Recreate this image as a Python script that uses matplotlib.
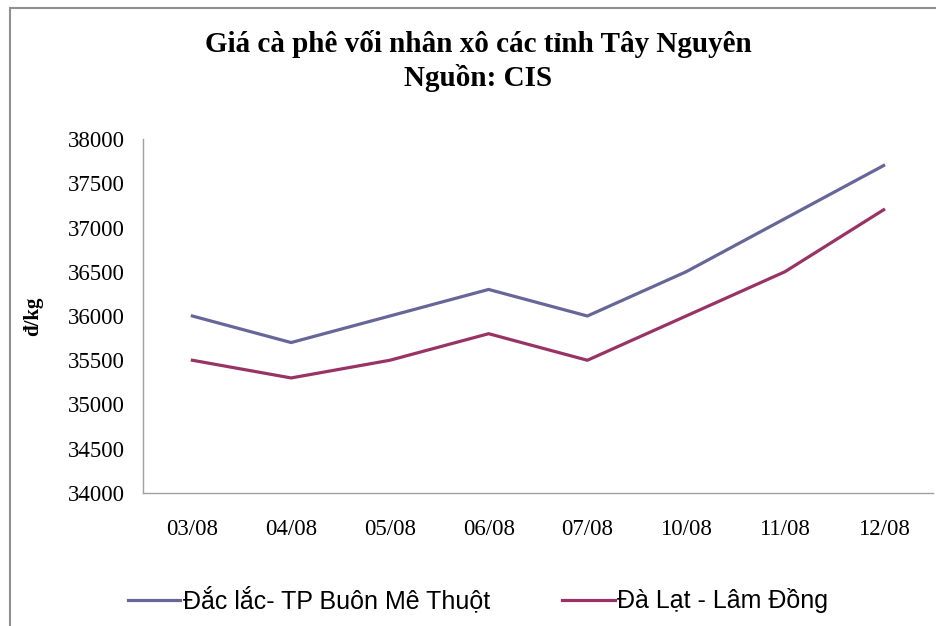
'''
    Coffee price chart for Tay Nguyen provinces
'''
import matplotlib
matplotlib.use('Agg')
import matplotlib.pyplot as plt
from matplotlib.patches import Rectangle

# data
dates       = ['03/08', '04/08', '05/08', '06/08', '07/08', '10/08', '11/08', '12/08']
daclak      = [36000, 35700, 36000, 36300, 36000, 36500, 37100, 37700]
dalat       = [35500, 35300, 35500, 35800, 35500, 36000, 36500, 37200]
series_names = ['Đắc lắc- TP Buôn Mê Thuột', 'Đà Lạt - Lâm Đồng']
y_ticks     = [34000, 34500, 35000, 35500, 36000, 36500, 37000, 37500, 38000]

_serif = 'Liberation Serif'
_sans  = 'Liberation Sans'

fig = plt.figure(figsize=(9.36, 6.26), dpi=100)
ax  = fig.add_axes([143 / 936, 1 - 493 / 626, (933 - 143) / 936, (493 - 139) / 626])

_x = list(range(len(dates)))
ax.plot(_x, daclak, color='#666699', lw=2.3, label=series_names[0], solid_joinstyle='round')
ax.plot(_x, dalat, color='#993366', lw=2.3, label=series_names[1], solid_joinstyle='round')

ax.set_xlim(-0.5, len(dates) - 0.5)
ax.set_ylim(34000, 38000)
ax.set_yticks(y_ticks)
ax.set_yticklabels([str(v) for v in y_ticks], fontfamily=_serif, fontsize=16.5)
ax.set_xticks(_x)
ax.set_xticklabels(dates, fontfamily=_serif, fontsize=16.5)
ax.tick_params(length=0, pad=13)
ax.tick_params(axis='x', pad=19)

for _side in ['top', 'right']:
    ax.spines[_side].set_visible(False)
for _side in ['left', 'bottom']:
    ax.spines[_side].set_color('#a0a0a0')
    ax.spines[_side].set_linewidth(1.0)

ax.set_ylabel('đ/kg', fontfamily=_serif, fontweight='bold', fontsize=15)
ax.yaxis.set_label_coords(-0.127, 0.5)

fig.text(478 / 936, 1 - 61 / 626, 'Giá cà phê vối nhân xô các tỉnh Tây Nguyên\nNguồn: CIS',
         ha='center', va='center', fontfamily=_serif, fontweight='bold',
         fontsize=21, linespacing=1.3)

ax.legend(loc='center', bbox_to_anchor=(478 / 936, 1 - 600 / 626),
          bbox_transform=fig.transFigure, ncol=2, frameon=False,
          prop={'family': _sans, 'size': 18}, handlelength=2.1,
          handletextpad=0.1, columnspacing=2.9)

# outer chart border (cropped on right and bottom)
fig.patches.append(Rectangle((10 / 936, -0.1), 1.2, 1 - 8 / 626 + 0.1,
                             transform=fig.transFigure, fill=False,
                             edgecolor='#909090', lw=1.5))

fig.savefig('out.png', dpi=100)
